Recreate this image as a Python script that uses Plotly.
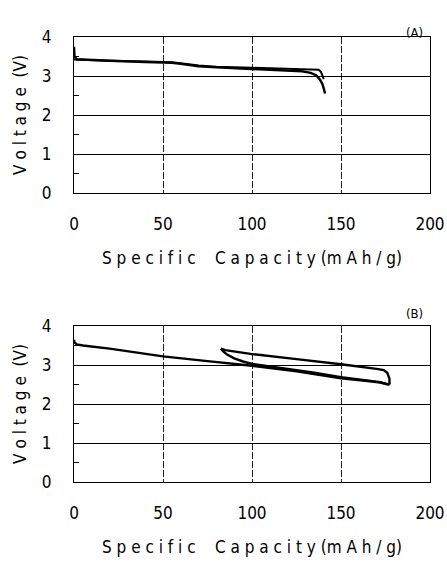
import plotly.graph_objects as go

# ---- data ----
a1_cap = [0, 0.3, 1.5, 5, 20, 40, 50, 55, 60, 65, 70, 80, 90, 100, 110, 120, 128, 133, 136, 138, 139.5, 140.5, 141]
a1_v = [3.75, 3.5, 3.43, 3.42, 3.39, 3.36, 3.35, 3.34, 3.31, 3.28, 3.25, 3.22, 3.2, 3.18, 3.16, 3.14, 3.12, 3.08, 3.02, 2.92, 2.8, 2.65, 2.55]
a2_cap = [0, 5, 20, 40, 50, 55, 60, 65, 70, 80, 90, 100, 110, 120, 130, 135, 137.5, 138.8, 139.8, 140.3]
a2_v = [3.42, 3.41, 3.39, 3.37, 3.36, 3.35, 3.33, 3.3, 3.27, 3.24, 3.22, 3.21, 3.2, 3.19, 3.18, 3.18, 3.16, 3.1, 3.0, 2.92]

b_dis1_cap = [0, 0.3, 1.5, 5, 20, 50, 75, 100, 125, 150, 165, 172, 176.5, 177.3]
b_dis1_v = [3.65, 3.58, 3.53, 3.5, 3.42, 3.22, 3.1, 2.98, 2.84, 2.66, 2.59, 2.55, 2.5, 2.5]
b_chg_cap = [177.3, 177.2, 176, 174, 170, 150, 125, 100, 85, 82.5]
b_chg_v = [2.5, 2.65, 2.8, 2.87, 2.9, 3.02, 3.15, 3.28, 3.38, 3.42]
b_dis2_cap = [82.5, 84, 86, 90, 95, 100, 110, 120, 135, 150, 165, 172, 176]
b_dis2_v = [3.42, 3.34, 3.27, 3.17, 3.09, 3.03, 2.96, 2.9, 2.8, 2.69, 2.6, 2.56, 2.51]

x_ticks = [0, 50, 100, 150, 200]
x_tick_text = ["0", "50", "100", "150", "200"]
y_ticks = [0, 1, 2, 3, 4]
y_tick_text = ["0", "1", "2", "3", "4"]
x_title = "S p e c i f i c    C a p a c i t y (m A h / g)"
y_title = "V o l t a g e  (V)"
panel_labels = ["(A)", "(B)"]

FONT = "DejaVu Sans Condensed, Liberation Sans Narrow, Roboto, sans-serif"
W, H = 447, 565

fig = go.Figure()
line = dict(color="black", width=2.4)
fig.add_trace(go.Scatter(x=a1_cap, y=a1_v, mode="lines", line=line, xaxis="x", yaxis="y"))
fig.add_trace(go.Scatter(x=a2_cap, y=a2_v, mode="lines", line=dict(color="black", width=2), xaxis="x", yaxis="y"))
fig.add_trace(go.Scatter(x=b_dis1_cap, y=b_dis1_v, mode="lines", line=line, xaxis="x2", yaxis="y2"))
fig.add_trace(go.Scatter(x=b_chg_cap, y=b_chg_v, mode="lines", line=line, xaxis="x2", yaxis="y2"))
fig.add_trace(go.Scatter(x=b_dis2_cap, y=b_dis2_v, mode="lines", line=line, xaxis="x2", yaxis="y2"))

xdom = [74 / W, 430 / W]
ydomA = [1 - 193 / H, 1 - 37 / H]
ydomB = [1 - 482 / H, 1 - 326 / H]

def xaxis(anchor, dom):
    return dict(
        domain=xdom, anchor=anchor, range=[0, 200], tickvals=x_ticks, ticktext=x_tick_text,
        showgrid=True, gridcolor="#222", gridwidth=1, griddash="7px,2px",
        showline=True, linecolor="black", linewidth=1, mirror=True, ticks="",
        ticklabelstandoff=16, zeroline=False, automargin=False, ticklabeloverflow="allow",
        tickfont=dict(family=FONT, size=17, color="black"),
        title=dict(text=x_title, font=dict(family=FONT, size=17, color="black"), standoff=18),
    )

def yaxis(anchor, dom):
    return dict(
        domain=dom, anchor=anchor, range=[0, 4], tickvals=y_ticks, ticktext=y_tick_text,
        showgrid=True, gridcolor="black", gridwidth=1.3,
        showline=True, linecolor="black", linewidth=1, mirror=True, ticks="",
        ticklabelstandoff=18, zeroline=False, automargin=False,
        minor=dict(tickvals=[0.5, 1.5, 2.5, 3.5], ticks="inside", ticklen=5, tickcolor="black", showgrid=False),
        tickfont=dict(family=FONT, size=17, color="black"),
        title=dict(text=y_title, font=dict(family=FONT, size=17, color="black"), standoff=10),
    )

fig.update_layout(
    width=W, height=H, margin=dict(l=0, r=0, t=0, b=0),
    paper_bgcolor="white", plot_bgcolor="white", showlegend=False,
    xaxis=xaxis("y", ydomA), yaxis=yaxis("x", ydomA),
    xaxis2=xaxis("y2", ydomB), yaxis2=yaxis("x2", ydomB),
)

for lab, ypix in zip(panel_labels, [23, 313]):
    fig.add_annotation(text=lab, x=425 / W, y=1 - ypix / H, xref="paper", yref="paper",
                       showarrow=False, font=dict(family=FONT, size=13, color="black"))

fig.write_html("out.html", config={"displayModeBar": False},
               post_script="document.body.style.margin='0';document.body.style.overflow='hidden';")
